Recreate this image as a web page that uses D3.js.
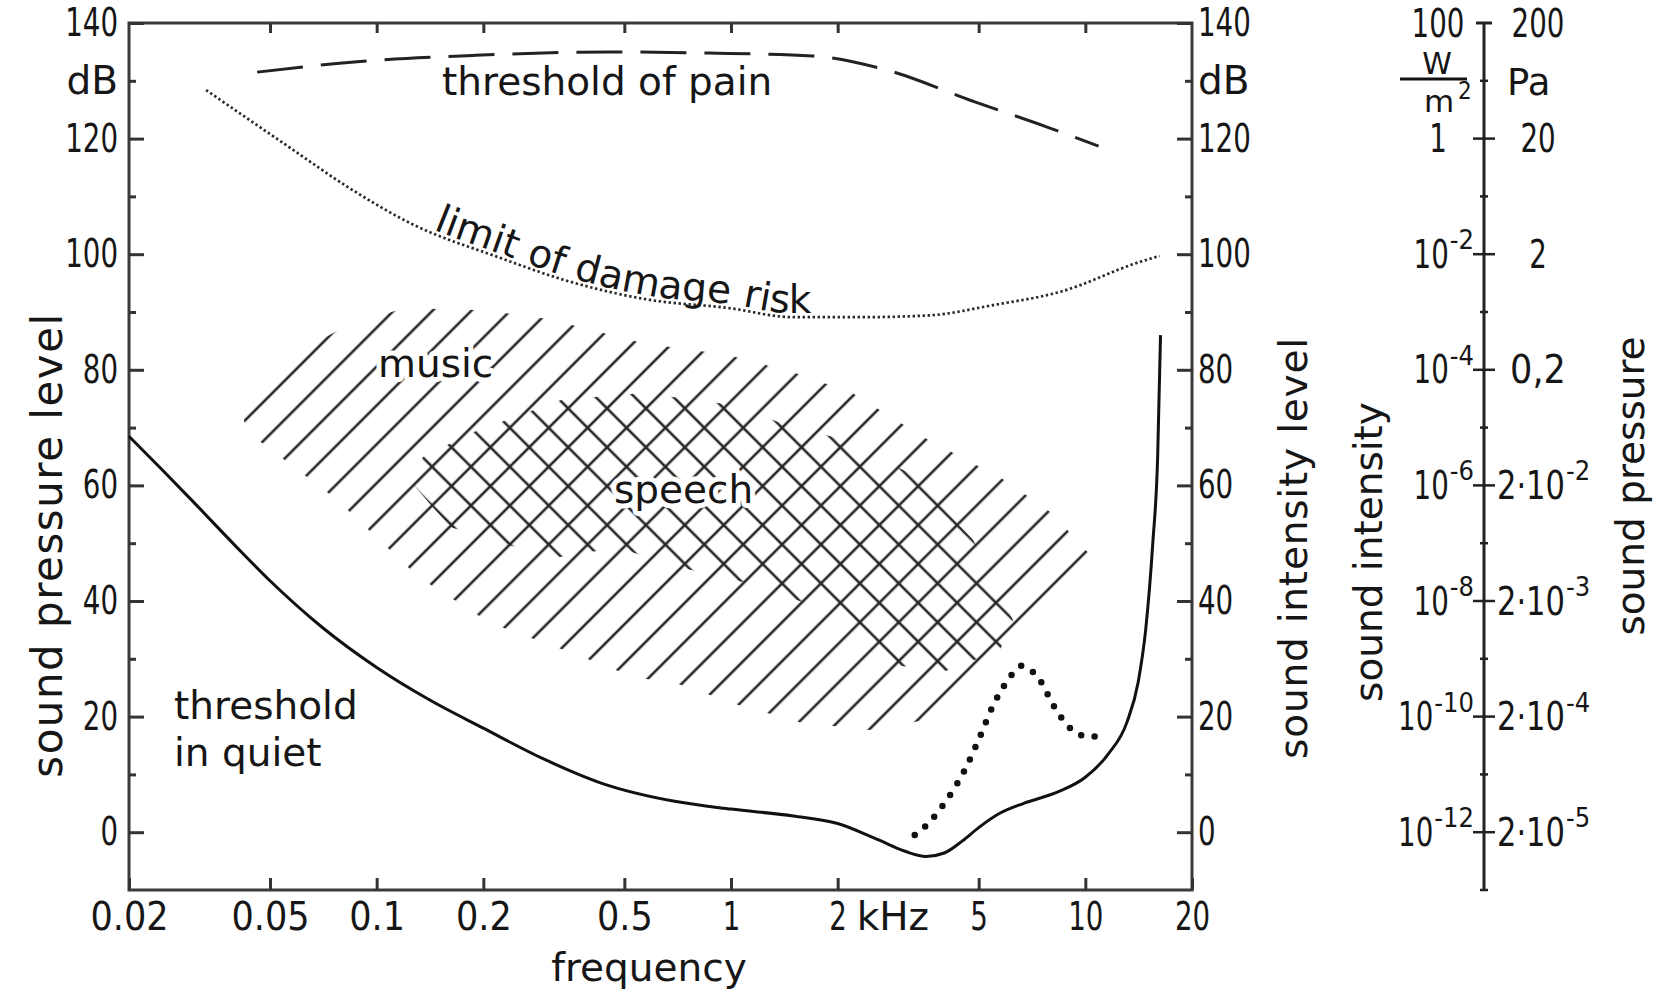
<!DOCTYPE html>
<html>
<head>
<meta charset="utf-8">
<script src="https://cdn.jsdelivr.net/npm/d3@7"></script>
<style>
  html, body { margin: 0; padding: 0; background: #fff; }
  svg text { fill: #161616; }
  .word { font-family: 'DejaVu Sans', sans-serif; font-size: 39px; }
  .num { font-family: 'DejaVu Sans Condensed', 'DejaVu Sans', sans-serif; font-size: 39px; }
  .axis path.domain { display: none; }
  .axis line { stroke: #333; stroke-width: 3; }
</style>
</head>
<body>
<div id="chart"></div>
<script>
// frequency in kHz, level in dB
const freqTicks = [0.02, 0.05, 0.1, 0.2, 0.5, 1, 2, 5, 10, 20];
const majorLevels = [0, 20, 40, 60, 80, 100, 120, 140];
const minorLevels = [10, 30, 50, 70, 90, 110, 130];

const thresholdQuiet = [
  [0.02, 68.5], [0.025, 62.5], [0.03, 57.5], [0.04, 49.5], [0.05, 43.5], [0.07, 35.5],
  [0.1, 28.5], [0.14, 23], [0.2, 18], [0.3, 12.5], [0.43, 8.5], [0.7, 5.3],
  [1, 4], [1.5, 2.8], [2, 1.5], [2.6, -1.3], [3.1, -3.3], [3.55, -4.2], [4, -3.6],
  [4.5, -1.5], [5, 0.8], [5.7, 3.2], [6.7, 5], [8.4, 7], [10, 9.5], [11.6, 13.5],
  [13.1, 19], [14.1, 26], [14.8, 35], [15.5, 50], [16, 65], [16.3, 86]
];
const thresholdPain = [
  [0.046, 131.5], [0.088, 133.3], [0.19, 134.4], [0.46, 135], [0.86, 134.8],
  [1.7, 134.3], [2.7, 132], [4.9, 126.3], [7.8, 122], [10.9, 118.7]
];
const damageRisk = [
  [0.033, 128.4], [0.057, 118.4], [0.083, 111.6], [0.127, 105.1], [0.22, 99.5],
  [0.34, 95.5], [0.59, 92.1], [0.98, 90.7], [1.5, 89.1], [2.3, 89.1], [3.6, 89.4],
  [5.5, 91.2], [8.5, 93.5], [14.3, 98.7], [16.2, 99.7]
];
const maskedPeak = [
  [3.3, -0.5], [3.6, 1.5], [4.0, 5], [4.5, 10], [5.0, 16], [5.5, 22], [6.0, 26],
  [6.6, 28.8], [7.3, 27], [7.8, 24], [8.4, 20.5], [9.3, 17.4], [10, 16.6], [11, 16.6]
];
const musicArea = [
  [0.0406, 74.8], [0.048, 80], [0.083, 87.7], [0.12, 90.7], [0.2, 90.3], [0.305, 88.8],
  [0.565, 84.6], [0.975, 82.6], [1.49, 79.6], [2.2, 76], [3.53, 68.2], [5.93, 60.9],
  [8.05, 55.2], [10.45, 47.6], [3.53, 19.4], [2.47, 17.7], [1.57, 19], [1.05, 22],
  [0.72, 25.5], [0.529, 26.9], [0.367, 30.7], [0.209, 36.2], [0.131, 44.2],
  [0.0773, 57.5], [0.0493, 66.6], [0.0432, 69.2]
];
const speechArea = [
  [0.127, 60.1], [0.135, 64.9], [0.187, 69.2], [0.333, 74.8], [0.565, 76], [1.01, 73.9],
  [1.44, 70.4], [2.0, 68.2], [3.27, 61.8], [4.82, 50.6], [6.25, 36.7], [5.74, 31.5],
  [3.97, 27.7], [2.94, 28.9], [1.6, 39.8], [1.11, 43.1], [0.766, 45.4], [0.477, 49.2],
  [0.313, 47.4], [0.161, 52.8]
];
// right hand scale: level -> intensity (W/m2) and pressure (Pa)
const intensityLabels = [
  [140, '100', ''], [120, '1', ''], [100, '10', '-2'], [80, '10', '-4'],
  [60, '10', '-6'], [40, '10', '-8'], [20, '10', '-10'], [0, '10', '-12']
];
const pressureLabels = [
  [140, '200', ''], [120, '20', ''], [100, '2', ''], [80, '0,2', ''],
  [60, '2·10', '-2'], [40, '2·10', '-3'], [20, '2·10', '-4'], [0, '2·10', '-5']
];

const width = 1657;
const height = 997;
const plot = { left: 129, right: 1192, top: 23, bottom: 890 };
const scaleX = 1484;
const digitW = 17.6; // narrow digits of the original lettering

const x = d3.scaleLog().domain([0.02, 20]).range([plot.left, plot.right]);
const y = d3.scaleLinear().domain([-10, 140]).range([plot.bottom, plot.top]);

const svg = d3.select('#chart').append('svg')
  .attr('width', width)
  .attr('height', height);

const defs = svg.append('defs');
function hatch(id, angle) {
  defs.append('pattern')
    .attr('id', id)
    .attr('patternUnits', 'userSpaceOnUse')
    .attr('width', 27.5)
    .attr('height', 27.5)
    .attr('patternTransform', `rotate(${angle})`)
    .append('line')
    .attr('x1', 3).attr('y1', 0).attr('x2', 3).attr('y2', 27.5)
    .attr('stroke', '#262626')
    .attr('stroke-width', 2.6);
}
hatch('hatchUp', 45);
hatch('hatchDown', -45);

const line = d3.line().x((d) => x(d[0])).y((d) => y(d[1]));
const area = d3.line().x((d) => x(d[0])).y((d) => y(d[1])).curve(d3.curveLinearClosed);

// squeeze a text horizontally to a given width (keeps its anchor point)
function squeeze(t, target) {
  const natural = t.node().getComputedTextLength();
  if (!natural || natural <= target) return;
  const k = target / natural;
  const x0 = +t.attr('x') || 0;
  t.attr('x', x0 / k).attr('transform', `scale(${k},1)`);
}
// plain integers get the narrow digits of the original
function narrow(sel) {
  sel.each(function () {
    const t = d3.select(this);
    const s = t.text();
    if (/^\d+$/.test(s)) squeeze(t, s.length * digitW);
  });
}

// hatched regions
svg.append('path').datum(musicArea).attr('d', area).attr('fill', 'url(#hatchUp)');
svg.append('path').datum(speechArea).attr('d', area).attr('fill', 'url(#hatchDown)');

// frame
svg.append('rect')
  .attr('x', plot.left).attr('y', plot.top)
  .attr('width', plot.right - plot.left).attr('height', plot.bottom - plot.top)
  .attr('fill', 'none').attr('stroke', '#3a3a3a').attr('stroke-width', 3);

// axes
svg.append('g').attr('class', 'axis num')
  .attr('transform', `translate(0,${plot.bottom})`)
  .call(d3.axisBottom(x).tickValues(freqTicks).tickSize(-12).tickPadding(12).tickFormat((d) => String(d)));
svg.append('g').attr('class', 'axis')
  .attr('transform', `translate(0,${plot.top})`)
  .call(d3.axisTop(x).tickValues(freqTicks.slice(1, -1)).tickSize(-10).tickFormat(''));
svg.append('text').attr('class', 'word')
  .attr('x', x(2) + 19).attr('y', plot.bottom + 12).attr('dy', '0.71em')
  .text('kHz');

svg.append('g').attr('class', 'axis num')
  .attr('transform', `translate(${plot.left},0)`)
  .call(d3.axisLeft(y).tickValues(majorLevels).tickSize(-15).tickPadding(11));
svg.append('g').attr('class', 'axis')
  .attr('transform', `translate(${plot.left},0)`)
  .call(d3.axisLeft(y).tickValues(minorLevels).tickSize(-7).tickFormat(''));
svg.append('g').attr('class', 'axis num')
  .attr('transform', `translate(${plot.right},0)`)
  .call(d3.axisRight(y).tickValues(majorLevels).tickSize(-15).tickPadding(6));
svg.append('g').attr('class', 'axis')
  .attr('transform', `translate(${plot.right},0)`)
  .call(d3.axisRight(y).tickValues(minorLevels).tickSize(-7).tickFormat(''));
svg.selectAll('.axis text').attr('fill', '#161616').style('fill', '#161616').call(narrow);

svg.append('text').attr('class', 'word').attr('text-anchor', 'end')
  .attr('x', plot.left - 11).attr('y', y(130)).attr('dy', '0.35em').text('dB');
svg.append('text').attr('class', 'word')
  .attr('x', plot.right + 6).attr('y', y(130)).attr('dy', '0.35em').text('dB');

// curves
svg.append('path').datum(thresholdQuiet)
  .attr('d', line.curve(d3.curveMonotoneX))
  .attr('fill', 'none').attr('stroke', '#111').attr('stroke-width', 3);
svg.append('path').datum(thresholdPain)
  .attr('d', line.curve(d3.curveMonotoneX))
  .attr('fill', 'none').attr('stroke', '#222').attr('stroke-width', 3)
  .attr('stroke-dasharray', '46,18');
svg.append('path').datum(damageRisk)
  .attr('d', line.curve(d3.curveMonotoneX))
  .attr('fill', 'none').attr('stroke', '#2a2a2a').attr('stroke-width', 2.7)
  .attr('stroke-dasharray', '2.4,2.6');
svg.append('path').datum(maskedPeak)
  .attr('d', line.curve(d3.curveCatmullRom))
  .attr('fill', 'none').attr('stroke', '#111').attr('stroke-width', 6.5)
  .attr('stroke-linecap', 'round').attr('stroke-dasharray', '0,13.5');

// label following the damage risk curve
defs.append('path').attr('id', 'damageText')
  .datum(damageRisk)
  .attr('d', d3.line().x((d) => x(d[0])).y((d) => y(d[1]) - 4).curve(d3.curveMonotoneX));
const pathNode = defs.select('#damageText').node();
let startLen = 0;
while (pathNode.getPointAtLength(startLen).x < 433) startLen += 1;
svg.append('text').attr('class', 'word')
  .append('textPath').attr('href', '#damageText').attr('startOffset', startLen)
  .text('limit of damage risk');

// other labels
const knockout = (sel) => sel.attr('stroke', '#fff').attr('stroke-width', 10)
  .attr('paint-order', 'stroke').attr('stroke-linejoin', 'round');
svg.append('text').attr('class', 'word').attr('x', 442).attr('y', 95).text('threshold of pain');
svg.append('text').attr('class', 'word').attr('x', 378).attr('y', 377).text('music').call(knockout);
svg.append('text').attr('class', 'word').attr('x', 614).attr('y', 503).text('speech').call(knockout);
svg.append('text').attr('class', 'word').attr('x', 174).attr('y', 719).text('threshold');
svg.append('text').attr('class', 'word').attr('x', 174).attr('y', 766).text('in quiet');
svg.append('text').attr('class', 'word').attr('text-anchor', 'middle')
  .attr('x', 649).attr('y', 981).text('frequency');

const vtitle = (tx, ty, label, size, spacing) => svg.append('text').attr('class', 'word')
  .attr('text-anchor', 'middle')
  .style('font-size', `${size}px`)
  .style('letter-spacing', `${spacing}px`)
  .attr('transform', `translate(${tx},${ty}) rotate(-90)`)
  .text(label);
vtitle(62, 545, 'sound pressure level', 42, 1.5);
vtitle(1307, 548, 'sound intensity level', 39, 0.8);
vtitle(1382, 552, 'sound intensity', 39, 0);
vtitle(1644, 486, 'sound pressure', 39, 0);

// intensity / pressure scale
const rs = svg.append('g');
rs.append('line').attr('x1', scaleX).attr('x2', scaleX)
  .attr('y1', y(140)).attr('y2', y(-10))
  .attr('stroke', '#222').attr('stroke-width', 3);
rs.selectAll('.major').data(majorLevels.slice(0, -1)).join('line')
  .attr('x1', scaleX - 11).attr('x2', scaleX + 11)
  .attr('y1', (d) => y(d)).attr('y2', (d) => y(d))
  .attr('stroke', '#222').attr('stroke-width', 2.5);
rs.selectAll('.minor').data(minorLevels.concat([-10])).join('line')
  .attr('x1', scaleX - 4).attr('x2', scaleX + 4)
  .attr('y1', (d) => y(d)).attr('y2', (d) => y(d))
  .attr('stroke', '#222').attr('stroke-width', 2.5);
rs.append('line').attr('x1', scaleX - 8).attr('x2', scaleX + 8)
  .attr('y1', y(140)).attr('y2', y(140))
  .attr('stroke', '#222').attr('stroke-width', 3);

// labels of the form base^exp, base drawn with narrow digits
function powerLabels(data, side) {
  const g = rs.append('g');
  data.forEach((d) => {
    const base = g.append('text').attr('class', 'num')
      .attr('y', y(d[0])).attr('dy', '0.35em').text(d[1]);
    if (!d[2]) {
      base.attr('text-anchor', 'middle').attr('x', side === 'left' ? 1438 : 1538).call(narrow);
      return;
    }
    const baseW = d[1] === '10' ? 2 * digitW : 68;
    const exp = g.append('text').attr('class', 'num')
      .style('font-size', '27px')
      .attr('y', y(d[0]) - 5).text(d[2]);
    const expW = exp.node().getComputedTextLength();
    const x0 = side === 'left' ? 1474 - expW - baseW - 1 : 1497;
    base.attr('x', x0);
    squeeze(base, baseW);
    exp.attr('x', x0 + baseW + 1);
  });
}
powerLabels(intensityLabels, 'left');
powerLabels(pressureLabels, 'right');

// W/m2 and Pa units
rs.append('text').attr('class', 'word').attr('text-anchor', 'middle')
  .style('font-size', '30px').attr('x', 1437).attr('y', 74).text('W');
rs.append('line').attr('x1', 1400).attr('x2', 1467).attr('y1', 79).attr('y2', 79)
  .attr('stroke', '#111').attr('stroke-width', 3);
rs.append('text').attr('class', 'word').attr('text-anchor', 'middle')
  .style('font-size', '31px').attr('x', 1439).attr('y', 112).text('m');
rs.append('text').attr('class', 'num').style('font-size', '24px')
  .attr('x', 1458).attr('y', 99).text('2');
rs.append('text').attr('class', 'word').style('font-size', '37px')
  .attr('x', 1507).attr('y', 95).text('Pa');
</script>
</body>
</html>
